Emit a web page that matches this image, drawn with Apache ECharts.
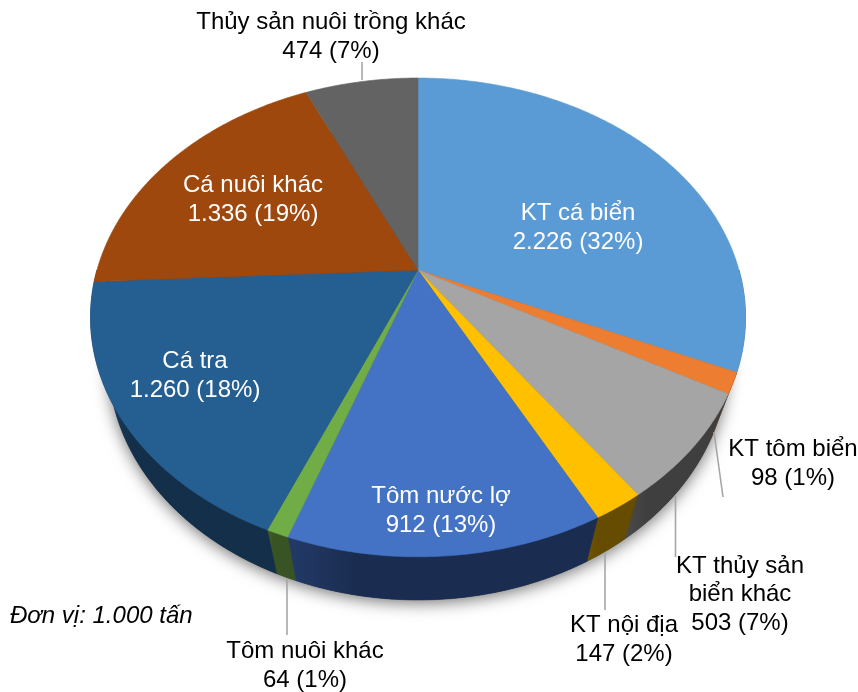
<!DOCTYPE html>
<html>
<head>
<meta charset="utf-8">
<style>html,body{margin:0;padding:0;background:#fff}#c{width:858px;height:692px}</style>
<script src="https://cdn.jsdelivr.net/npm/echarts@6/dist/echarts.min.js"></script>
</head>
<body>
<div id="c"></div>
<script>
const categories = ["KT cá biển","KT tôm biển","KT thủy sản\nbiển khác","KT nội địa","Tôm nước lợ","Tôm nuôi khác","Cá tra","Cá nuôi khác","Thủy sản nuôi trồng khác"];
const values = [2226,98,503,147,912,64,1260,1336,474];
const faceColors = ["#5B9BD5","#ED7D31","#A5A5A5","#FFC000","#4472C4","#70AD47","#255E91","#9E480E","#636363"];
const wallLeft = ["#2f5f8c","#8a4519","#4a4a4a","#6f5400","#233a68","#40602a","#1c4a72","#5c2a08","#3a3a3a"];
const wallRight = ["#2f5f8c","#8a4519","#3f3f3f","#654c00","#1a2c50","#385424","#142f49","#5c2a08","#3a3a3a"];
const labelX = [578,793,740,624,441,305,195,253,331];
const labelY = [228,464,594.5,640,511,666,376,200,37];
const labelColors = ["#fff","#000","#000","#000","#fff","#000","#fff","#fff","#000"];
const leaderLines = [[362,62,362,80],[714,432,723,497],[675.5,496,675.5,557],[605,552,605,610],[287,579,287,635]];

// Tilted, perspective-projected disc: upper surface and lower rim
const upperRim = {cx:418, cy:270, a:321, b:230, k:0.198};
const lowerRim = {cx:418, cy:316, a:304, b:230, k:0.19};
const total = values.reduce((s,v)=>s+v,0);
const cum = [0]; values.forEach((v,i)=>cum.push(cum[i]+v));
const angle = i => cum[i]/total*Math.PI*2;
function rim(r,t){
  const x=Math.sin(t), d=-Math.cos(t), w=1-r.k*d;
  return [r.cx+r.a*x/w, r.cy+r.b*d/w];
}
function arc(r,t0,t1){
  const n=Math.max(2,Math.ceil((t1-t0)/0.01)), p=[];
  for(let j=0;j<=n;j++) p.push(rim(r,t0+(t1-t0)*j/n));
  return p;
}
const fmt = v => String(v).replace(/\B(?=(\d{3})+$)/g,".");
const labelText = i => categories[i]+"\n"+fmt(values[i])+" ("+Math.round(values[i]/total*100)+"%)";
const sliceData = values.map((v,i)=>[i,v]);
const base = {type:"custom",coordinateSystem:"none",silent:true,animation:false,clip:false};

const chart = echarts.init(document.getElementById("c"),null,{renderer:"canvas"});
chart.setOption({
  animation:false,
  backgroundColor:"#fff",
  title:{text:"Đơn vị: 1.000 tấn",left:10,top:604,padding:0,
    textStyle:{fontFamily:"Liberation Sans",fontSize:24,fontStyle:"italic",fontWeight:"normal",color:"#000"}},
  series:[
    Object.assign({},base,{name:"shadow",z:1,data:[[0]],renderItem(){
      return {type:"polygon",shape:{points:arc(lowerRim,0,Math.PI*2)},
        style:{fill:"#333",shadowBlur:16,shadowOffsetY:3,shadowColor:"rgba(0,0,0,0.55)"}};
    }}),
    Object.assign({},base,{name:"wall",z:2,data:sliceData,renderItem(p,api){
      const i=api.value(0);
      const t0=Math.max(angle(i),Math.PI/2), t1=Math.min(angle(i+1),Math.PI*1.5);
      if(t1<=t0) return {type:"group",children:[]};
      const pts=arc(upperRim,t0,t1).concat(arc(lowerRim,t0,t1).reverse());
      // walls brighten only near their left end, facing the light
      const fill=new echarts.graphic.LinearGradient(0,0,1,0,[{offset:0,color:wallLeft[i]},{offset:0.22,color:wallRight[i]},{offset:1,color:wallRight[i]}]);
      return {type:"polygon",shape:{points:pts},style:{fill,stroke:fill,lineWidth:0.6}};
    }}),
    Object.assign({},base,{name:"face",z:3,data:sliceData,renderItem(p,api){
      const i=api.value(0);
      const pts=[[upperRim.cx,upperRim.cy]].concat(arc(upperRim,angle(i),angle(i+1)));
      return {type:"polygon",shape:{points:pts},style:{fill:faceColors[i],stroke:faceColors[i],lineWidth:0.6}};
    }}),
    Object.assign({},base,{name:"leaders",z:4,data:leaderLines.map((l,i)=>[i]),renderItem(p,api){
      const l=leaderLines[api.value(0)];
      return {type:"line",shape:{x1:l[0],y1:l[1],x2:l[2],y2:l[3]},style:{stroke:"#A6A6A6",lineWidth:1.6}};
    }}),
    Object.assign({},base,{name:"labels",z:5,data:sliceData,renderItem(p,api){
      const i=api.value(0);
      return {type:"text",style:{text:labelText(i),x:labelX[i],y:labelY[i],align:"center",verticalAlign:"middle",
        fill:labelColors[i],fontFamily:"Liberation Sans",fontSize:24,lineHeight:28.5}};
    }})
  ]
});
</script>
</body>
</html>
